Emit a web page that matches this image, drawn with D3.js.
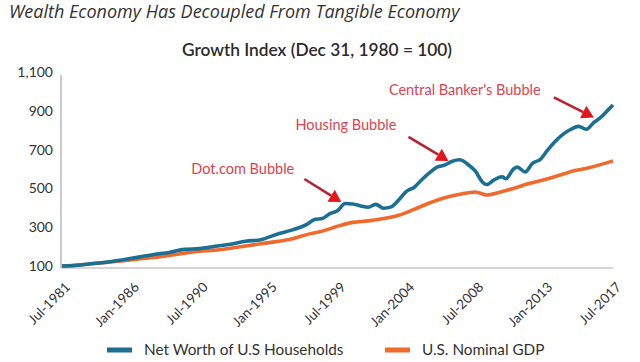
<!DOCTYPE html>
<html>
<head>
<meta charset="utf-8">
<script src="https://cdn.jsdelivr.net/npm/d3@7"></script>
<style>
  html, body { margin: 0; padding: 0; background: #fff; }
  svg { display: block; }
</style>
</head>
<body>
<svg id="chart" width="640" height="362"></svg>
<script>
// Net worth of US households, index Dec 1980 = 100
const netWorth = [
  ["1981-07", 100], ["1982-07", 104], ["1983-07", 113], ["1984-07", 121],
  ["1985-07", 133], ["1986-07", 146], ["1987-07", 160], ["1988-07", 170],
  ["1989-07", 186], ["1990-07", 190], ["1991-07", 202], ["1992-07", 212],
  ["1993-07", 228], ["1994-07", 236], ["1995-07", 263], ["1996-07", 285],
  ["1997-07", 315], ["1998-01", 340], ["1998-07", 345], ["1999-01", 370],
  ["1999-07", 385], ["2000-01", 422], ["2000-07", 420], ["2001-01", 410],
  ["2001-07", 403], ["2002-01", 418], ["2002-07", 398], ["2003-01", 405],
  ["2003-07", 440], ["2004-01", 485], ["2004-07", 505], ["2005-01", 545],
  ["2005-07", 580], ["2006-01", 610], ["2006-07", 620], ["2007-01", 640],
  ["2007-07", 648], ["2008-01", 625], ["2008-07", 590], ["2009-01", 530],
  ["2009-04", 520], ["2009-10", 545], ["2010-04", 560], ["2010-07", 550],
  ["2011-01", 600], ["2011-04", 610], ["2011-10", 585], ["2012-04", 630],
  ["2012-10", 650], ["2013-04", 700], ["2013-10", 745], ["2014-04", 780],
  ["2014-10", 805], ["2015-04", 820], ["2015-10", 805], ["2016-04", 840],
  ["2016-10", 870], ["2017-04", 910], ["2017-07", 930]
];

// US nominal GDP, same index
const nominalGdp = [
  ["1981-07", 100], ["1982-07", 105], ["1983-07", 112], ["1984-07", 120],
  ["1985-07", 128], ["1986-07", 136], ["1987-07", 144], ["1988-07", 155],
  ["1989-07", 166], ["1990-07", 176], ["1991-07", 182], ["1992-07", 192],
  ["1993-07", 203], ["1994-07", 215], ["1995-07", 226], ["1996-07", 240],
  ["1997-07", 262], ["1998-07", 280], ["1999-07", 305], ["2000-07", 325],
  ["2001-07", 333], ["2002-07", 345], ["2003-07", 362], ["2004-07", 392],
  ["2005-07", 425], ["2006-07", 452], ["2007-07", 470], ["2008-07", 482],
  ["2009-04", 466], ["2010-01", 478], ["2011-01", 500], ["2012-01", 525],
  ["2013-01", 545], ["2014-01", 568], ["2015-01", 592], ["2016-01", 608],
  ["2017-07", 642]
];

const yTicks = [100, 300, 500, 700, 900, 1100];
const xTicks = ["1981-07", "1986-01", "1990-07", "1995-01", "1999-07",
                "2004-01", "2008-07", "2013-01", "2017-07"];

// arrow tip (date, index value) for each bubble label
const annotations = [
  { text: "Dot.com Bubble", at: "1999-10", value: 430 },
  { text: "Housing Bubble", at: "2006-10", value: 642 },
  { text: "Central Banker's Bubble", at: "2016-04", value: 866 }
];

const seriesInfo = [
  { name: "Net Worth of U.S Households", values: netWorth, color: "#1b6f93" },
  { name: "U.S. Nominal GDP", values: nominalGdp, color: "#ef6a2c" }
];

const parse = d3.timeParse("%Y-%m");
const fmt = d3.timeFormat("%b-%Y");
const font = "Lato, 'Open Sans', sans-serif";

const svg = d3.select("#chart");
const margin = { top: 72, right: 27, bottom: 94, left: 62 };
const width = 640, height = 362;

const x = d3.scaleTime()
  .domain([parse("1981-07"), parse("2017-07")])
  .range([margin.left, width - margin.right]);

const y = d3.scaleLinear()
  .domain([90, 1100])
  .range([height - margin.bottom, margin.top]);

// page title
svg.append("text")
  .attr("x", 9).attr("y", 18)
  .attr("font-family", "'Open Sans', sans-serif")
  .attr("font-style", "italic")
  .attr("font-size", 18)
  .attr("fill", "#333")
  .text("Wealth Economy Has Decoupled From Tangible Economy");

svg.append("text")
  .attr("x", 317).attr("y", 56)
  .attr("text-anchor", "middle")
  .attr("font-family", font)
  .attr("font-weight", 600)
  .attr("font-size", 17.3)
  .attr("fill", "#2b2b2b")
  .text("Growth Index (Dec 31, 1980 = 100)");

// axes lines
svg.append("line")
  .attr("x1", margin.left - 1).attr("x2", margin.left - 1)
  .attr("y1", y(1100) + 3).attr("y2", y(90))
  .attr("stroke", "#a9a9a9").attr("stroke-width", 1.2);

svg.append("line")
  .attr("x1", margin.left - 1).attr("x2", width - margin.right)
  .attr("y1", y(90)).attr("y2", y(90))
  .attr("stroke", "#a9a9a9").attr("stroke-width", 1.2);

svg.append("g")
  .selectAll("text")
  .data(yTicks)
  .join("text")
  .attr("x", 53)
  .attr("y", (d) => y(d))
  .attr("dy", "0.35em")
  .attr("text-anchor", "end")
  .attr("font-family", font)
  .attr("font-size", 14)
  .attr("fill", "#333")
  .text((d) => d3.format(",")(d));

svg.append("g")
  .selectAll("text")
  .data(xTicks)
  .join("text")
  .attr("transform", (d) => `translate(${x(parse(d)) + 9},${y(90) + 20}) rotate(-45)`)
  .attr("text-anchor", "end")
  .attr("font-family", font)
  .attr("font-size", 13.5)
  .attr("fill", "#333")
  .text((d) => fmt(parse(d)));

const line = d3.line()
  .x((d) => x(parse(d[0])))
  .y((d) => y(d[1]))
  .curve(d3.curveMonotoneX);

svg.append("g")
  .selectAll("path")
  .data(seriesInfo.slice().reverse())
  .join("path")
  .attr("fill", "none")
  .attr("stroke", (d) => d.color)
  .attr("stroke-width", 3.6)
  .attr("stroke-linejoin", "round")
  .attr("d", (d) => line(d.values));

// label offset from the tip, and arrow length, per annotation
const annoLayout = [
  { dx: -150, dy: -28, ax: 37, ay: 23 },
  { dx: -153, dy: -31, ax: 40, ay: 24 },
  { dx: -205, dy: -22, ax: 40, ay: 20 }
];

annotations.forEach((a, i) => {
  const L = annoLayout[i];
  const tx = x(parse(a.at));
  const ty = y(a.value);
  const sx = tx - L.ax, sy = ty - L.ay;
  const ang = Math.atan2(ty - sy, tx - sx);
  const hl = 12, hw = 7;
  const bx = tx - hl * Math.cos(ang), by = ty - hl * Math.sin(ang);
  svg.append("line")
    .attr("x1", sx).attr("y1", sy).attr("x2", bx).attr("y2", by)
    .attr("stroke", "#b82330").attr("stroke-width", 2.6);
  svg.append("path")
    .attr("d", `M${tx},${ty}L${bx + hw * Math.sin(ang)},${by - hw * Math.cos(ang)}L${bx - hw * Math.sin(ang)},${by + hw * Math.cos(ang)}Z`)
    .attr("fill", "#e3161e");
  svg.append("text")
    .attr("x", tx + L.dx)
    .attr("y", ty + L.dy)
    .attr("font-family", font)
    .attr("font-size", 14.5)
    .attr("fill", "#dc4350")
    .text(a.text);
});

// legend
const legendPos = [107, 385];
const legend = svg.append("g")
  .selectAll("g")
  .data(seriesInfo)
  .join("g")
  .attr("transform", (d, i) => `translate(${legendPos[i]},350)`);

legend.append("rect")
  .attr("x", 0).attr("y", -2.5)
  .attr("width", 25).attr("height", 5)
  .attr("fill", (d) => d.color);

legend.append("text")
  .attr("x", 37).attr("y", 0)
  .attr("dy", "0.35em")
  .attr("font-family", font)
  .attr("font-size", 15.3)
  .attr("fill", "#333")
  .text((d) => d.name);
</script>
</body>
</html>
